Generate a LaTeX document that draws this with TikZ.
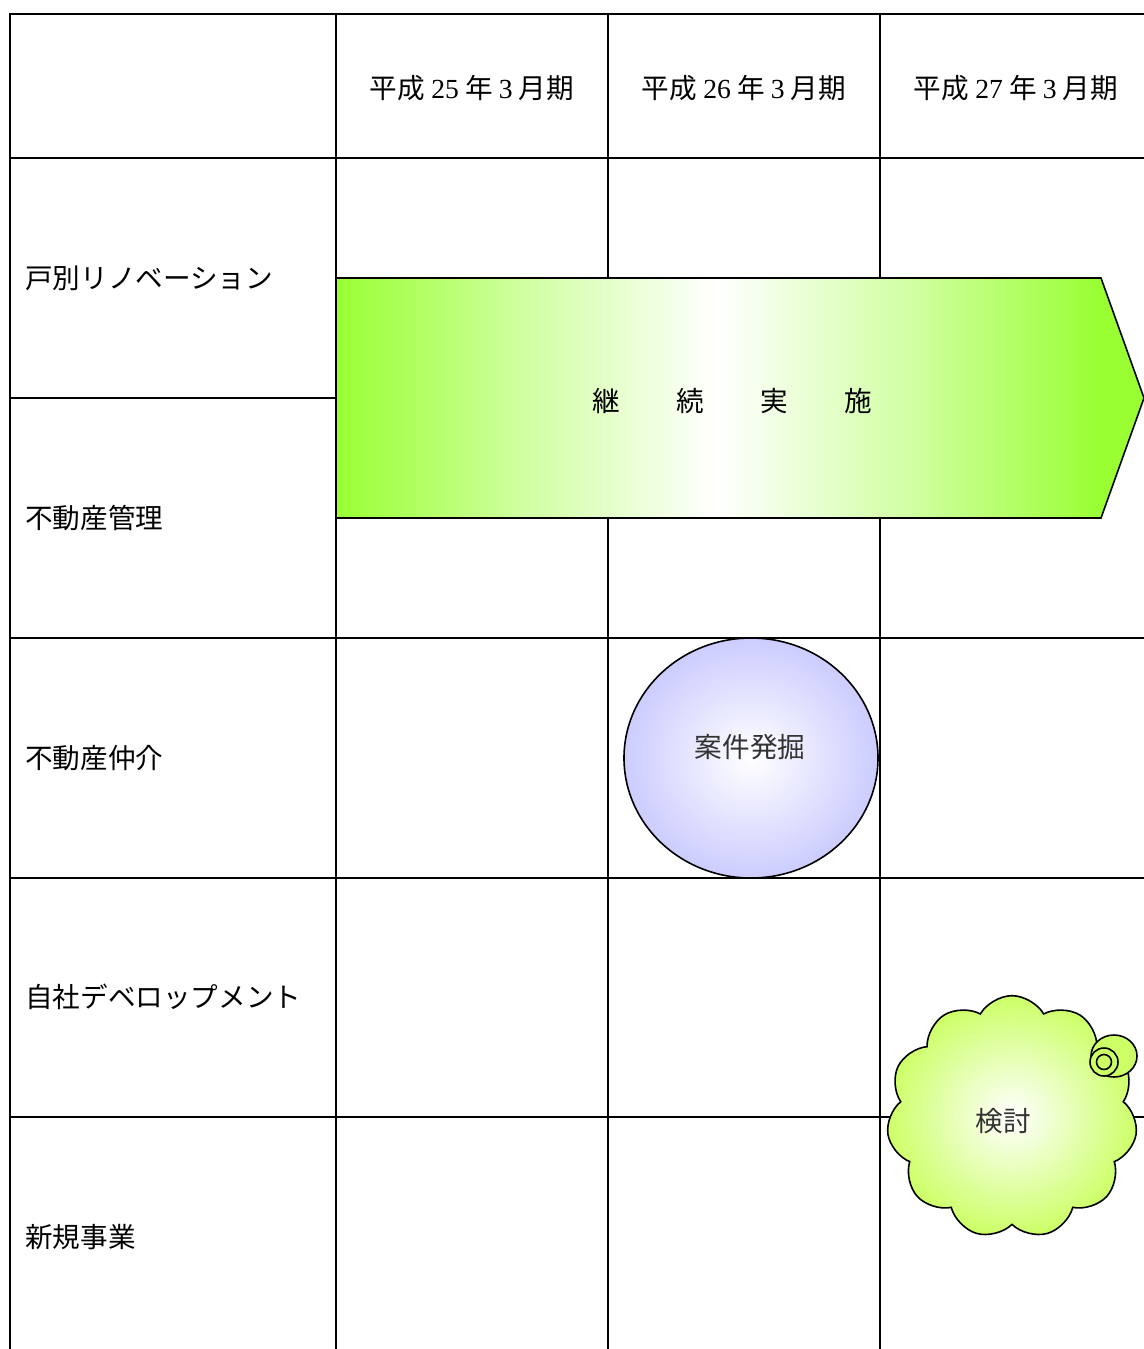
\documentclass[tikz,border=0pt]{standalone}
\usepackage{fontspec}
\setmainfont{Noto Sans CJK JP}
\newfontfamily\numfont{Liberation Serif}
\usetikzlibrary{shapes.symbols,shapes.geometric}
\definecolor{arrowgreen}{RGB}{153,255,51}
\definecolor{lav}{RGB}{204,204,255}
\definecolor{cloudgreen}{RGB}{204,255,102}
\pgfdeclarehorizontalshading{arrowshade}{100bp}{color(0bp)=(arrowgreen); color(25bp)=(arrowgreen); color(36.8bp)=(arrowgreen!45!white); color(48.6bp)=(white); color(60.5bp)=(arrowgreen!45!white); color(72.3bp)=(arrowgreen); color(100bp)=(arrowgreen)}
\tikzset{
  grid/.style={line width=1.5pt,black},
  rowlabel/.style={anchor=west,font=\fontsize{20.7}{24}\selectfont,inner sep=0pt},
  header/.style={font=\fontsize{20.7}{24}\selectfont,inner sep=0pt},
  shapetext/.style={font=\fontsize{20.7}{24}\selectfont,text=black!80}
}
\begin{document}
\begin{tikzpicture}[x=0.75pt,y=-0.75pt]
\useasboundingbox (0,0) rectangle (1144,1349);
% grid
\draw[grid] (10,1349) -- (10,14) -- (1150,14);
\draw[grid] (336,14) -- (336,1349);
\draw[grid] (608,14) -- (608,1349);
\draw[grid] (880,14) -- (880,1349);
\draw[grid] (10,158) -- (1150,158);
\draw[grid] (10,398) -- (1150,398);
\draw[grid] (10,638) -- (1150,638);
\draw[grid] (10,878) -- (1150,878);
\draw[grid] (10,1117) -- (1150,1117);
% headers
\node[header] (h1) at (472,88) {平成 {\numfont 25} 年 {\numfont 3} 月期};
\node[header] (h2) at (744,88) {平成 {\numfont 26} 年 {\numfont 3} 月期};
\node[header] (h3) at (1016,88) {平成 {\numfont 27} 年 {\numfont 3} 月期};
% row labels
\node[rowlabel] (r1) at (25,278) {戸別リノベーション};
\node[rowlabel] (r2) at (25,518) {不動産管理};
\node[rowlabel] (r3) at (25,758) {不動産仲介};
\node[rowlabel] (r4) at (25,997) {自社デベロップメント};
\node[rowlabel] (r5) at (25,1237) {新規事業};
% arrow
\draw[line width=1.2pt,shading=arrowshade]
  (336,278) -- (1101,278) -- (1144,398) -- (1101,518) -- (336,518) -- cycle;
\node[shapetext,text=black] (a1) at (606,401) {継};
\node[shapetext,text=black] (a2) at (690,401) {続};
\node[shapetext,text=black] (a3) at (774,401) {実};
\node[shapetext,text=black] (a4) at (858,401) {施};
% ellipse
\draw[line width=1.2pt,inner color=white,outer color=lav] (751,758) ellipse [x radius=127,y radius=120];
\node[shapetext] (e1) at (750,747) {案件発掘};
% cloud
\node[cloud,cloud puffs=11,cloud puff arc=120,aspect=1.05,draw,line width=1.2pt,
  inner color=white,outer color=cloudgreen,minimum width=188pt,minimum height=182pt] (cl) at (1012,1117) {};
\draw[line width=1.2pt,fill=cloudgreen] (1114,1056) ellipse [x radius=23,y radius=21];
\draw[line width=1.2pt,fill=cloudgreen] (1104,1062) circle [radius=14];
\draw[line width=1.2pt] (1104,1062) circle [radius=7.5];
\node[shapetext] (c1) at (1003,1121) {検討};
\end{tikzpicture}
\end{document}
